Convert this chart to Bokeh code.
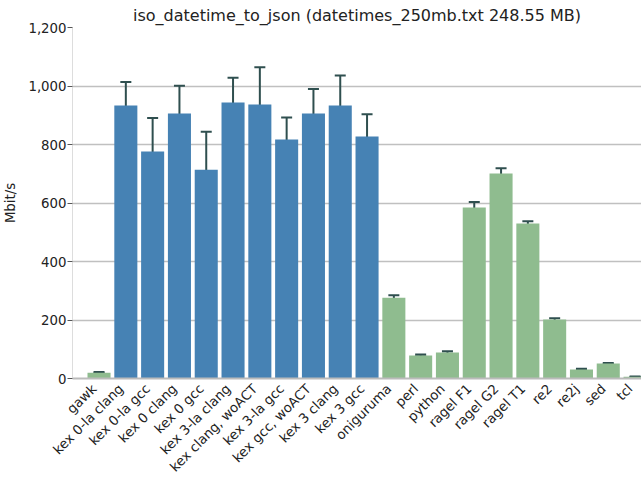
from bokeh.plotting import figure
from bokeh.models import ColumnDataSource, Whisker, Range1d, FixedTicker, TeeHead, NumeralTickFormatter
from bokeh.embed import file_html
from bokeh.resources import INLINE
import math

categories = ["gawk", "kex 0-la clang", "kex 0-la gcc", "kex 0 clang", "kex 0 gcc",
              "kex 3-la clang", "kex clang, woACT", "kex 3-la gcc", "kex gcc, woACT",
              "kex 3 clang", "kex 3 gcc", "oniguruma", "perl", "python", "ragel F1",
              "ragel G2", "ragel T1", "re2", "re2j", "sed", "tcl"]
values = [20, 933, 776, 906, 714, 944, 937, 817, 906, 933, 827,
          276, 79, 89, 585, 701, 530, 202, 31, 51, 6]
err_low = [18, 849, 662, 808, 581, 860, 810, 742, 821, 827, 751,
           266, 76, 85, 565, 683, 522, 196, 29, 49, 5]
err_high = [22, 1014, 891, 1001, 844, 1028, 1064, 892, 990, 1036, 903,
            285, 82, 93, 603, 719, 538, 206, 33, 53, 7]
is_kex = [c.startswith("kex") for c in categories]
y_ticks = [0, 200, 400, 600, 800, 1000, 1200]

BLUE = "#4682b4"
GREEN = "#8fbc8f"
colors = [BLUE if k else GREEN for k in is_kex]
xs = list(range(len(categories)))

src = ColumnDataSource(dict(x=xs, top=values, lo=err_low, hi=err_high, color=colors))

p = figure(frame_width=569, frame_height=351, output_backend="svg", toolbar_location=None,
           x_range=Range1d(-0.99, 20.24), y_range=Range1d(0, 1200),
           min_border_left=64, min_border_right=0, min_border_top=0, min_border_bottom=0,
           title="iso_datetime_to_json (datetimes_250mb.txt 248.55 MB)")
p.outline_line_color = None
p.background_fill_color = "white"
p.border_fill_color = "white"

p.title.align = "center"
p.title.text_font = "DejaVu Sans"
p.title.text_font_size = "16px"
p.title.text_font_style = "normal"
p.title.text_color = "#222222"
p.title.standoff = 6
p.title.offset = 5

p.vbar(x="x", top="top", width=0.86, bottom=0, fill_color="color", line_color=None, source=src)

w = Whisker(base="x", lower="lo", upper="hi", source=src, line_color="#2f4f4f", line_width=2,
            upper_head=TeeHead(size=11, line_color="#2f4f4f", line_width=2),
            lower_head=TeeHead(size=11, line_color="#2f4f4f", line_width=2))
p.add_layout(w)

p.xgrid.grid_line_color = None
p.ygrid.grid_line_color = "#c0c0c0"
p.ygrid.grid_line_width = 1.5

# label anchors shifted slightly left so that rotated labels end at the bar centre
label_shift = 0.18
label_ticks = [i - label_shift for i in xs]
p.xaxis.ticker = FixedTicker(ticks=label_ticks)
p.xaxis.major_label_overrides = {t: c for t, c in zip(label_ticks, categories)}
p.xaxis.major_label_orientation = math.pi / 4
p.xaxis.major_tick_line_color = None
p.xaxis.major_tick_out = 0
p.xaxis.major_tick_in = 0
p.xaxis.major_label_standoff = 8
p.xaxis.minor_tick_line_color = None
p.xaxis.axis_line_color = "#bbbbbb"
p.xaxis.axis_line_width = 2

p.yaxis.ticker = FixedTicker(ticks=y_ticks)
p.yaxis.formatter = NumeralTickFormatter(format="0,0")
p.yaxis.axis_label = "Mbit/s"
p.yaxis.axis_line_color = "#dddddd"
p.yaxis.major_tick_line_color = "#555555"
p.yaxis.major_tick_out = 5
p.yaxis.major_tick_in = 0
p.yaxis.minor_tick_line_color = None
p.yaxis.major_label_standoff = 1
p.yaxis.axis_label_standoff = 7

for ax in (p.xaxis, p.yaxis):
    ax.major_label_text_font = "DejaVu Sans"
    ax.major_label_text_font_size = "13.3px"
    ax.major_label_text_color = "#222222"
    ax.axis_label_text_font = "DejaVu Sans"
    ax.axis_label_text_font_size = "13.3px"
    ax.axis_label_text_font_style = "normal"
    ax.axis_label_text_color = "#222222"

open("out.html", "w").write(file_html(p, INLINE))
